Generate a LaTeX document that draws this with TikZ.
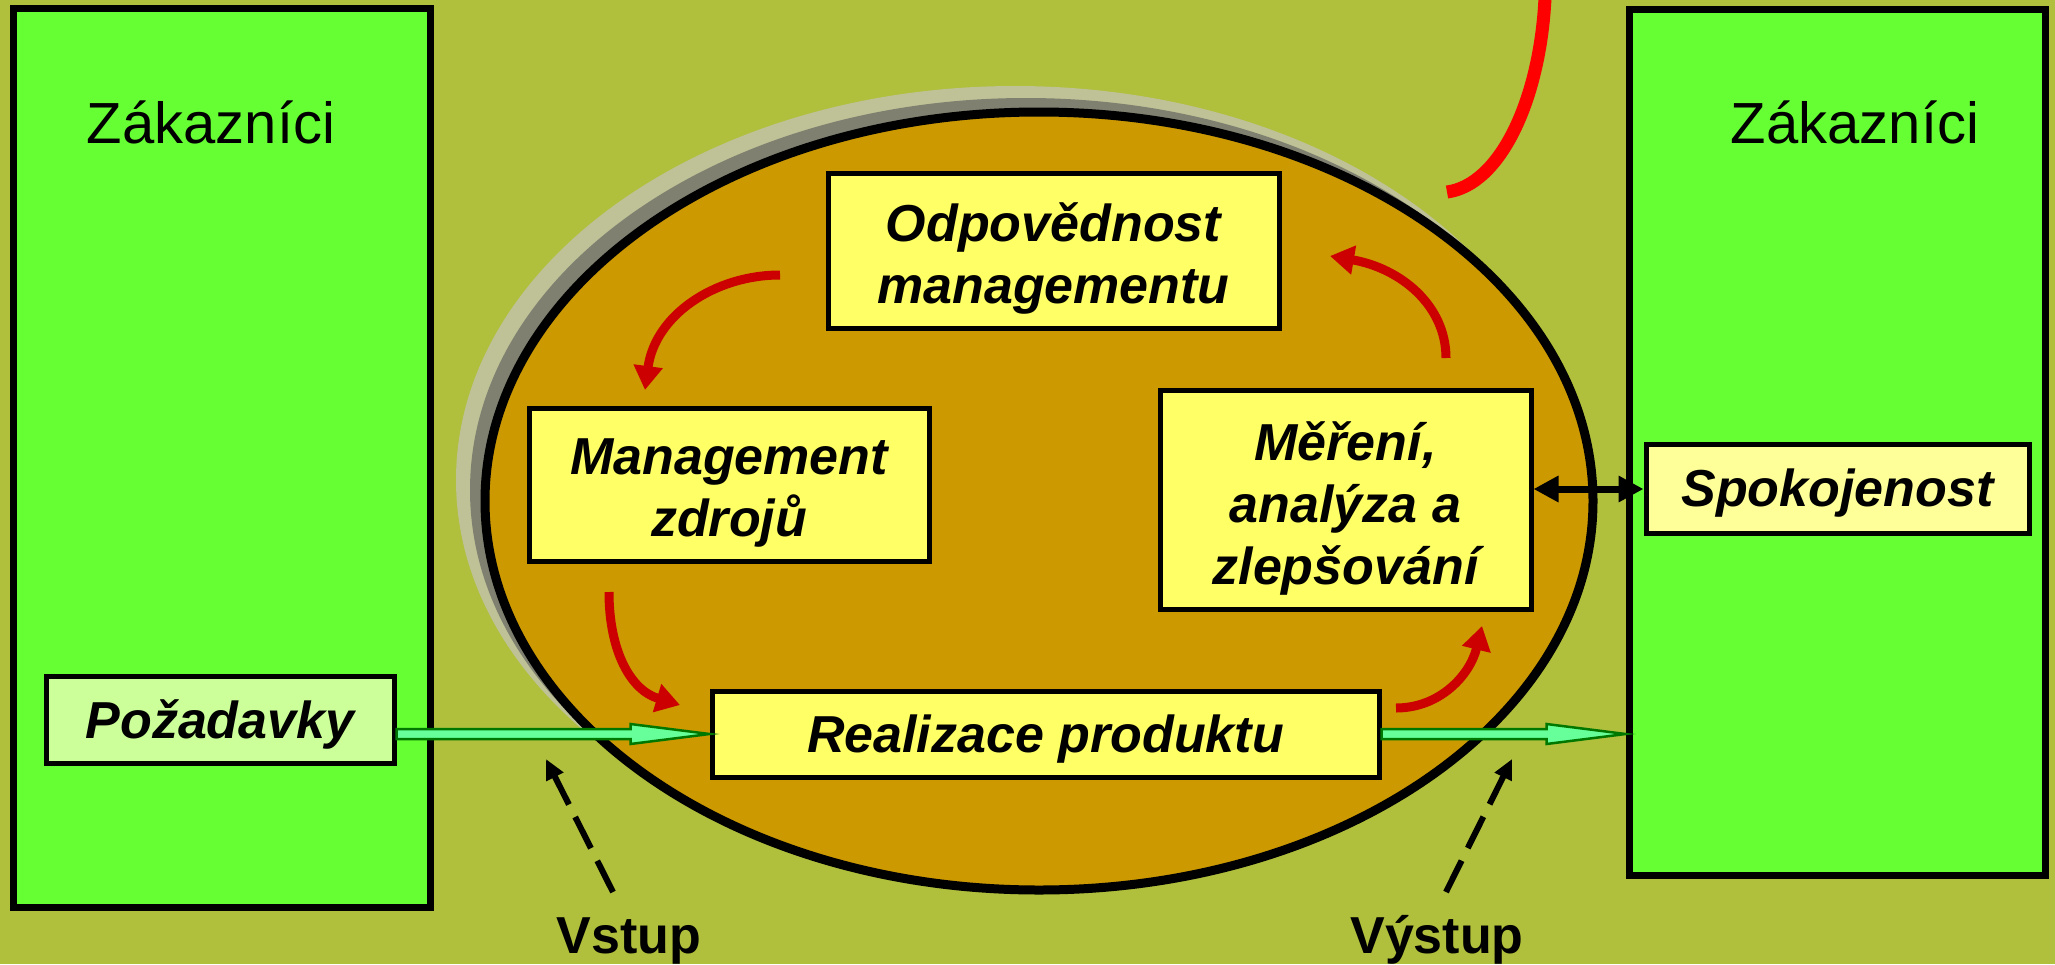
\documentclass[tikz,border=0pt]{standalone}
\usepackage{fontspec}
\setmainfont{Liberation Sans}
\usetikzlibrary{arrows.meta,calc}
\definecolor{bgc}{RGB}{176,191,60}
\definecolor{greenrect}{RGB}{102,255,51}
\definecolor{ellfill}{RGB}{204,153,0}
\definecolor{yel}{RGB}{255,255,102}
\definecolor{lightyel}{RGB}{255,255,153}
\definecolor{lightgreen}{RGB}{204,255,153}
\definecolor{darkred}{RGB}{204,0,0}
\definecolor{brightred}{RGB}{255,0,0}
\definecolor{arrowgreen}{RGB}{102,255,153}
\definecolor{arrowedge}{RGB}{0,120,0}
\definecolor{shadlight}{RGB}{190,194,150}
\definecolor{shaddark}{RGB}{128,128,112}
\begin{document}
\begin{tikzpicture}[x=1pt,y=-1pt,
  gbox/.style={draw=black,line width=7pt,fill=greenrect,inner sep=0pt},
  ybox/.style={draw=black,line width=5pt,fill=yel,inner sep=0pt},
  btext/.style={inner sep=0pt,align=center,
    font=\fontsize{52}{62}\selectfont\bfseries\itshape},
  biglabel/.style={font=\fontsize{58}{66}\selectfont,anchor=base},
  iolabel/.style={font=\fontsize{52}{60}\selectfont\bfseries,anchor=base},
  redarrow/.style={draw=darkred,line width=9pt,-{Triangle[length=24pt,width=28pt]}},
  dasharrow/.style={draw=black,line width=6pt,dash pattern=on 35pt off 14pt,
    -{Triangle[length=20pt,width=18pt]}},
  dblarrow/.style={draw=black,line width=7pt,{Triangle[length=25pt,width=25pt]}-{Triangle[length=25pt,width=25pt]}},
  garrow/.style={draw=arrowedge,line width=2.5pt,fill=arrowgreen,line join=miter}
]
\fill[bgc] (0,0) rectangle (2055,964);
\useasboundingbox (0,0) rectangle (2055,964);

% side rectangles
\node[gbox,minimum width=417pt,minimum height=899pt] (zl) at (221.5,457.5) {};
\node[gbox,minimum width=416pt,minimum height=866pt] (zr) at (1837,442) {};
\node[biglabel] (zlt) at (211,143) {Zákazníci};
\node[biglabel] (zrt) at (1855,143) {Zákazníci};

% ellipse with shadow
\fill[shadlight] (1015,480) ellipse [x radius=559, y radius=394];
\fill[shaddark] (1026,490) ellipse [x radius=556, y radius=392];
\draw[fill=ellfill,line width=9pt] (1039,501) ellipse [x radius=554, y radius=389];

% top red curve
\draw[brightred,line width=13pt] (1447,192) .. controls (1500,185) and (1540,100) .. (1545,-2);

% boxes
\node[ybox,minimum width=451pt,minimum height=155pt] (odp) at (1053.5,250.5) {};
\node[ybox,minimum width=400pt,minimum height=153pt] (mgmt) at (729,484.5) {};
\node[ybox,minimum width=371pt,minimum height=219pt] (mer) at (1345.5,499.5) {};
\node[ybox,minimum width=667pt,minimum height=86pt] (real) at (1045.5,734) {};
\node[ybox,fill=lightgreen,minimum width=348pt,minimum height=87pt] (poz) at (220,719.5) {};
\node[ybox,fill=lightyel,minimum width=383pt,minimum height=89pt] (spok) at (1837.5,489) {};
\node[btext] (odpt) at ([yshift=-8pt]odp.center) {Odpovědnost\\managementu};
\node[btext] (mgmtt) at ([yshift=-8pt]mgmt.center) {Management\\zdrojů};
\node[btext] (mert) at ([yshift=-9pt]mer.center) {Měření,\\analýza a\\zlepšování};
\node[btext] (realt) at ([yshift=-5pt]real.center) {Realizace produktu};
\node[btext] (pozt) at ([yshift=-5pt]poz.center) {Požadavky};
\node[btext] (spokt) at ([yshift=-4pt]spok.center) {Spokojenost};

% red cycle arrows
\coordinate (r1s) at (780,275);  \coordinate (r1e) at (645,390);
\coordinate (r2s) at (609,592);  \coordinate (r2e) at (680,705);
\coordinate (r3s) at (1396,708); \coordinate (r3e) at (1482,626);
\coordinate (r4s) at (1446,358); \coordinate (r4e) at (1330,256);
\draw[redarrow] (r1s) .. controls (715,275) and (655,315) .. (r1e);
\draw[redarrow] (r2s) .. controls (609,650) and (630,690) .. (r2e);
\draw[redarrow] (r3s) .. controls (1440,708) and (1470,675) .. (r3e);
\draw[redarrow] (r4s) .. controls (1446,305) and (1400,268) .. (r4e);

% green arrows
\draw[garrow] let \p1=(poz.east|-real.west), \p2=(real.west) in
  (\x1,\y1+5pt) -- (\x2-79pt,\y1+5pt) -- (\x2-79pt,\y1+10pt) -- (\x2,\y1)
  -- (\x2-79pt,\y1-10pt) -- (\x2-79pt,\y1-5pt) -- (\x1,\y1-5pt) -- cycle;
\draw[garrow] let \p1=(real.east), \p2=(zr.west|-real.east) in
  (\x1,\y1+5pt) -- (\x2-79pt,\y1+5pt) -- (\x2-79pt,\y1+10pt) -- (\x2,\y1)
  -- (\x2-79pt,\y1-10pt) -- (\x2-79pt,\y1-5pt) -- (\x1,\y1-5pt) -- cycle;

% double arrow
\draw[dblarrow] (mer.east|-spok.west) -- (spok.west);

% input/output labels and dashed arrows
\node[iolabel] (vstup) at (629,953) {Vstup};
\node[iolabel] (vystup) at (1437,953) {Výstup};
\coordinate (vtail) at (613,892);  \coordinate (vtip) at (546,759);
\coordinate (ytail) at (1446,892); \coordinate (ytip) at (1512,759);
\draw[dasharrow] (vtail) -- (vtip);
\draw[dasharrow] (ytail) -- (ytip);
\end{tikzpicture}
\end{document}
